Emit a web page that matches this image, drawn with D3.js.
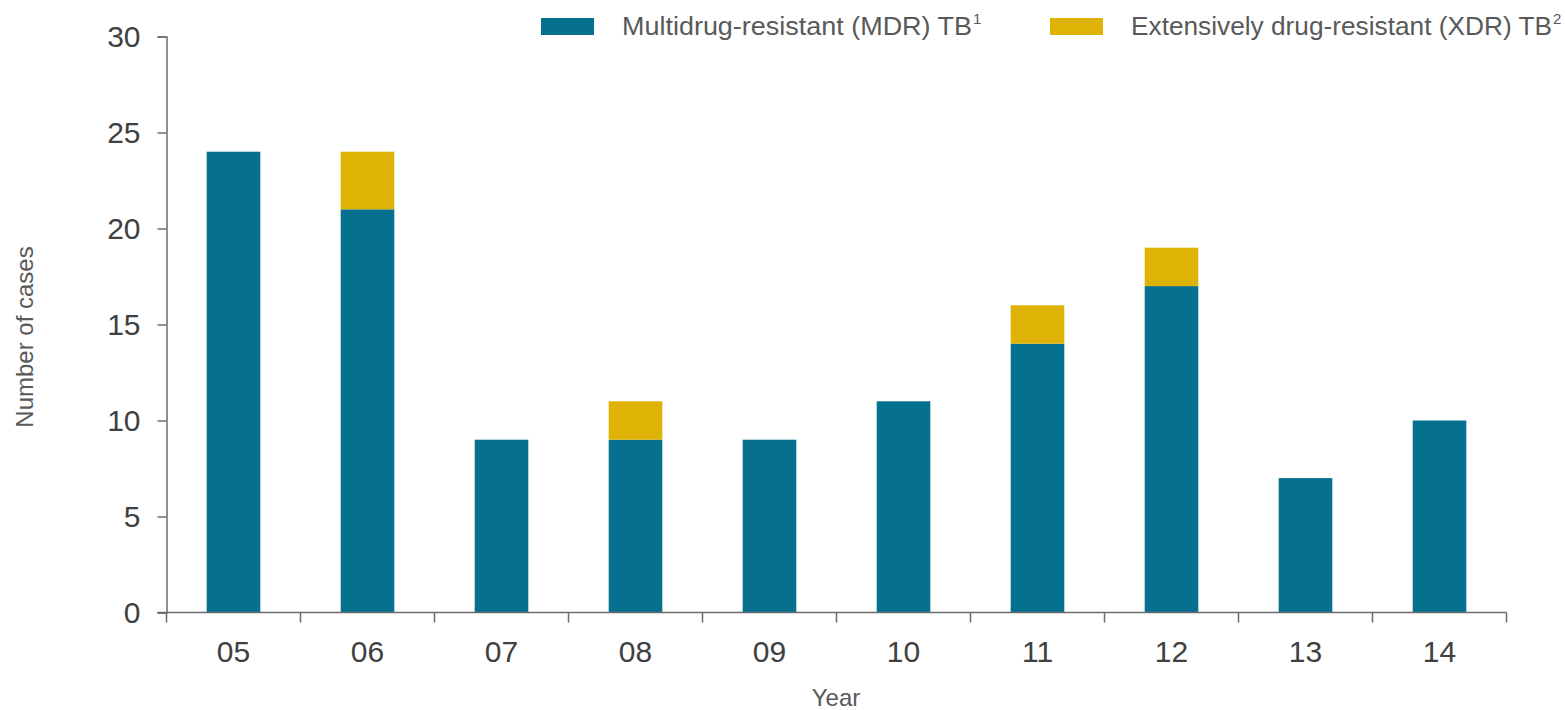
<!DOCTYPE html>
<html>
<head>
<meta charset="utf-8">
<script src="https://cdn.jsdelivr.net/npm/d3@7"></script>
<style>
  body { margin: 0; background: #fff; }
  svg { display: block; font-family: "Liberation Sans", Arial, sans-serif; }
</style>
</head>
<body>
<svg id="chart" width="1565" height="710"></svg>
<script>
const years = ["05", "06", "07", "08", "09", "10", "11", "12", "13", "14"];
const mdr = [24, 21, 9, 9, 9, 11, 14, 17, 7, 10];
const xdr = [0, 3, 0, 2, 0, 0, 2, 2, 0, 0];
const yTicks = [0, 5, 10, 15, 20, 25, 30];
const seriesNames = ["Multidrug-resistant (MDR) TB", "Extensively drug-resistant (XDR) TB"];
const seriesSup = ["1", "2"];
const colors = ["#06708f", "#dfb306"];

const svg = d3.select('#chart'),
    plotLeft = 166.5, plotRight = 1506.5, plotTop = 36.5, plotBottom = 612.5;

const axisColor = "#6b6b6b",
    labelColor = "#404040",
    titleColor = "#595959";

const rows = years.map((y, i) => ({ year: y, mdr: mdr[i], xdr: xdr[i] }));
const stack = d3.stack().keys(["mdr", "xdr"])(rows);

const x = d3.scaleBand()
    .domain(years)
    .range([plotLeft, plotRight])
    .paddingInner(0.6)
    .paddingOuter(0.3);

const y = d3.scaleLinear()
    .domain([0, 30])
    .range([plotBottom, plotTop]);

// bars
svg.append('g')
    .selectAll('g')
    .data(stack)
    .enter()
    .append('g')
    .attr('fill', (d, i) => colors[i])
    .selectAll('rect')
    .data(d => d.filter(p => p[1] > p[0]))
    .enter()
    .append('rect')
    .attr('x', d => x(d.data.year))
    .attr('width', x.bandwidth())
    .attr('y', d => y(d[1]))
    .attr('height', d => y(d[0]) - y(d[1]));

// y axis
const yAxis = svg.append('g')
    .attr('transform', 'translate(' + plotLeft + ',0)')
    .call(d3.axisLeft(y).tickValues(yTicks).tickSize(9).tickPadding(17));
yAxis.select('.domain').attr('stroke', axisColor).attr('stroke-width', 1.5);
yAxis.selectAll('.tick line').attr('stroke', axisColor).attr('stroke-width', 1.5);
yAxis.selectAll('.tick text')
    .attr('fill', labelColor)
    .attr('font-size', '30px')
    .attr('font-family', '"Liberation Sans", Arial, sans-serif');

// x axis: line plus ticks at band boundaries
const boundaries = d3.range(years.length + 1).map(i => plotLeft + i * (plotRight - plotLeft) / years.length);
const xg = svg.append('g');
xg.append('line')
    .attr('x1', plotLeft - 9).attr('x2', plotRight)
    .attr('y1', plotBottom).attr('y2', plotBottom)
    .attr('stroke', axisColor).attr('stroke-width', 1.5);
xg.selectAll('.xtick')
    .data(boundaries)
    .enter()
    .append('line')
    .attr('class', 'xtick')
    .attr('x1', d => d).attr('x2', d => d)
    .attr('y1', plotBottom).attr('y2', plotBottom + 10)
    .attr('stroke', axisColor).attr('stroke-width', 1.5);
xg.selectAll('.xlabel')
    .data(years)
    .enter()
    .append('text')
    .attr('class', 'xlabel')
    .attr('x', d => x(d) + x.bandwidth() / 2)
    .attr('y', 662)
    .attr('text-anchor', 'middle')
    .attr('fill', labelColor)
    .attr('font-size', '30px')
    .text(d => d);

// axis titles
svg.append('text')
    .attr('x', 836)
    .attr('y', 706)
    .attr('text-anchor', 'middle')
    .attr('fill', titleColor)
    .attr('font-size', '24px')
    .text('Year');

svg.append('text')
    .attr('transform', 'translate(33,337) rotate(-90)')
    .attr('text-anchor', 'middle')
    .attr('fill', titleColor)
    .attr('font-size', '24px')
    .text('Number of cases');

// legend
const legendX = [541, 1050];
const legendLen = [350, 421];
const legend = svg.append('g');
seriesNames.forEach((name, i) => {
    const lg = legend.append('g').attr('transform', 'translate(' + legendX[i] + ',0)');
    lg.append('rect')
        .attr('x', 0).attr('y', 18)
        .attr('width', 53).attr('height', 17)
        .attr('fill', colors[i]);
    lg.append('text')
        .attr('x', 81).attr('y', 35)
        .attr('fill', titleColor)
        .attr('font-size', '25px')
        .attr('textLength', legendLen[i])
        .attr('lengthAdjust', 'spacingAndGlyphs')
        .text(name);
    lg.append('text')
        .attr('x', 81 + legendLen[i] + 1).attr('y', 24)
        .attr('fill', titleColor)
        .attr('font-size', '15px')
        .text(seriesSup[i]);
});
</script>
</body>
</html>
